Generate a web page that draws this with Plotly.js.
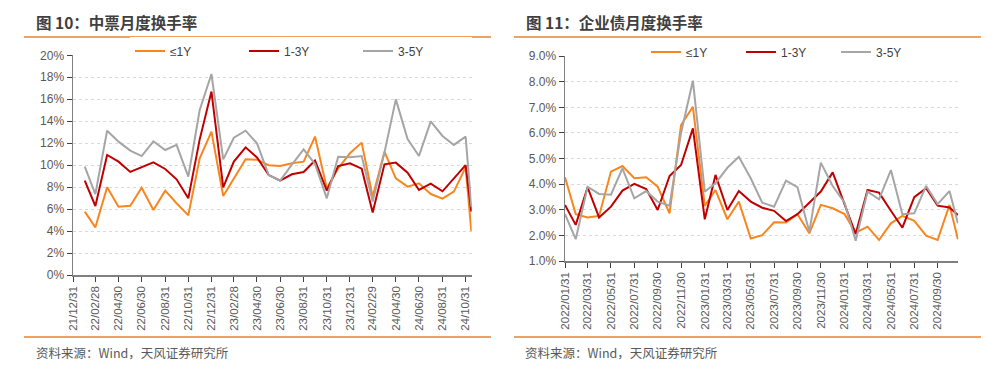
<!DOCTYPE html>
<html><head><meta charset="utf-8">
<script src="https://cdn.plot.ly/plotly-3.0.1.min.js"></script>
<style>html,body{margin:0;padding:0;background:#fff;overflow:hidden;}#chart{width:1000px;height:375px;}</style>
</head><body><div id="chart"></div>
<script>
// ---- Left chart: 中票月度换手率 ----
var mtnDates = ['2022-01-31','2022-02-28','2022-03-31','2022-04-30','2022-05-31','2022-06-30','2022-07-31','2022-08-31','2022-09-30','2022-10-31','2022-11-30','2022-12-31',
  '2023-01-31','2023-02-28','2023-03-31','2023-04-30','2023-05-31','2023-06-30','2023-07-31','2023-08-31','2023-09-30','2023-10-31','2023-11-30','2023-12-31',
  '2024-01-31','2024-02-29','2024-03-31','2024-04-30','2024-05-31','2024-06-30','2024-07-31','2024-08-31','2024-09-30','2024-10-31','2024-11-15'];
var mtnShort = [5.77,4.34,7.98,6.22,6.31,7.95,5.92,7.68,6.53,5.43,10.62,13.05,7.19,8.8,10.53,10.5,10.0,9.92,10.17,10.32,12.6,7.89,9.71,11.08,12.05,7.13,11.23,8.8,8.04,8.35,7.37,6.95,7.59,9.8,4.0];
var mtnMid   = [8.59,6.28,10.93,10.32,9.38,9.8,10.26,9.65,8.71,6.98,12.35,16.7,7.98,10.32,11.62,10.7,9.1,8.6,9.17,9.38,10.41,7.68,9.92,10.17,9.68,5.68,10.08,10.23,9.32,7.74,8.32,7.62,8.83,10.0,5.77];
var mtnLong  = [9.86,7.37,13.14,12.14,11.32,10.83,12.17,11.38,11.84,8.95,15.02,18.3,10.53,12.5,13.14,11.99,9.1,8.59,10.05,11.44,10.1,6.98,10.77,10.71,10.83,6.68,11.14,15.99,12.38,10.83,13.99,12.66,11.84,12.6,6.22];
var mtnTickVals = ['2021-12-31','2022-02-28','2022-04-30','2022-06-30','2022-08-31','2022-10-31','2022-12-31','2023-02-28','2023-04-30','2023-06-30','2023-08-31','2023-10-31','2023-12-31','2024-02-29','2024-04-30','2024-06-30','2024-08-31','2024-10-31'];
var mtnTickText = ['21/12/31','22/02/28','22/04/30','22/06/30','22/08/31','22/10/31','22/12/31','23/02/28','23/04/30','23/06/30','23/08/31','23/10/31','23/12/31','24/02/29','24/04/30','24/06/30','24/08/31','24/10/31'];
var mtnYTicks = [0,2,4,6,8,10,12,14,16,18,20];
var mtnYTickText = ['0%','2%','4%','6%','8%','10%','12%','14%','16%','18%','20%'];

// ---- Right chart: 企业债月度换手率 ----
var ebDates = ['2022-01-31','2022-02-28','2022-03-31','2022-04-30','2022-05-31','2022-06-30','2022-07-31','2022-08-31','2022-09-30','2022-10-31','2022-11-30','2022-12-31',
  '2023-01-31','2023-02-28','2023-03-31','2023-04-30','2023-05-31','2023-06-30','2023-07-31','2023-08-31','2023-09-30','2023-10-31','2023-11-30','2023-12-31',
  '2024-01-31','2024-02-29','2024-03-31','2024-04-30','2024-05-31','2024-06-30','2024-07-31','2024-08-31','2024-09-30','2024-10-31','2024-11-22'];
var ebShort = [4.27,2.83,2.70,2.76,4.49,4.71,4.23,4.27,3.90,2.86,6.31,7.02,3.15,3.77,2.63,3.32,1.88,2.01,2.51,2.50,2.83,2.08,3.19,3.06,2.83,2.11,2.34,1.82,2.47,2.76,2.57,1.99,1.82,3.19,1.85];
var ebMid   = [3.19,2.41,3.88,2.70,3.12,3.75,4.01,3.81,2.99,4.32,4.75,6.18,2.63,4.36,2.99,3.73,3.32,3.08,2.96,2.56,2.83,3.28,3.71,4.46,3.22,2.05,3.77,3.67,2.96,2.30,3.49,3.84,3.16,3.09,2.80];
var ebLong  = [2.83,1.85,3.90,3.62,3.59,4.62,3.45,3.73,3.32,3.16,6.0,8.04,3.71,4.03,4.64,5.07,4.23,3.28,3.12,4.14,3.88,2.14,4.84,3.93,3.28,1.79,3.71,3.41,4.55,2.83,2.86,3.93,3.22,3.73,2.47];
var ebTickVals = ['2022-01-31','2022-03-31','2022-05-31','2022-07-31','2022-09-30','2022-11-30','2023-01-31','2023-03-31','2023-05-31','2023-07-31','2023-09-30','2023-11-30','2024-01-31','2024-03-31','2024-05-31','2024-07-31','2024-09-30'];
var ebTickText = ['2022/01/31','2022/03/31','2022/05/31','2022/07/31','2022/09/30','2022/11/30','2023/01/31','2023/03/31','2023/05/31','2023/07/31','2023/09/30','2023/11/30','2024/01/31','2024/03/31','2024/05/31','2024/07/31','2024/09/30'];

var seriesNames = ['≤1Y','1-3Y','3-5Y'];
var colors = ['#F8861F','#C00000','#A5A5A5'];

function mk(x, y, i, xa, ya, lg){
  return {x:x, y:y, type:'scatter', mode:'lines', name:seriesNames[i],
    line:{color:colors[i], width:2}, xaxis:xa, yaxis:ya, legend:lg, hoverinfo:'skip'};
}
var data = [
  mk(mtnDates, mtnShort, 0, 'x', 'y', 'legend'),
  mk(mtnDates, mtnMid, 1, 'x', 'y', 'legend'),
  mk(mtnDates, mtnLong, 2, 'x', 'y', 'legend'),
  mk(ebDates, ebShort, 0, 'x2', 'y2', 'legend2'),
  mk(ebDates, ebMid, 1, 'x2', 'y2', 'legend2'),
  mk(ebDates, ebLong, 2, 'x2', 'y2', 'legend2'),
  // empty carrier trace so the left chart's labelled axis (y3) is drawn
  {x:[], y:[], type:'scatter', mode:'lines', xaxis:'x', yaxis:'y3', showlegend:false, hoverinfo:'skip'}
];

var tickFont = {family:'Liberation Sans, Arial, sans-serif', size:12, color:'#595959'};
var xFont = {family:'Liberation Sans, Arial, sans-serif', size:11.5, color:'#595959'};
var H = 375, W = 1000;
function py(p){ return 1 - p / H; }

var xBase = {type:'date', showgrid:false, zeroline:false, showline:true, linecolor:'#808080', linewidth:1.5,
  ticks:'outside', ticklen:5, tickcolor:'#404040', tickwidth:1, tickangle:-90, tickfont:xFont, fixedrange:true, tickmode:'array'};
var yBase = {type:'linear', showgrid:true, gridcolor:'#D9D9D9', griddash:'dot', gridwidth:1, zeroline:false, showline:true,
  linecolor:'#808080', linewidth:1.5, ticks:'outside', ticklen:5, tickcolor:'#404040', tickfont:tickFont, fixedrange:true};

var leftDomY = [py(275), py(55.3)];
var layout = {
  width:W, height:H, autosize:false, margin:{l:0,r:0,t:0,b:0,pad:0}, paper_bgcolor:'#fff', plot_bgcolor:'rgba(0,0,0,0)',
  xaxis: Object.assign({}, xBase, {domain:[73/W, 471.7/W], range:['2021-12-31','2024-11-16'], anchor:'y',
    tickvals:mtnTickVals, ticktext:mtnTickText}),
  // grid-only axis for the left chart (no gridline at the top value)
  yaxis: {type:'linear', domain:leftDomY, range:[0,20], anchor:'x', tickmode:'array', tickvals:mtnYTicks.slice(1, -1),
    showgrid:true, gridcolor:'#D9D9D9', griddash:'dot', gridwidth:1, zeroline:false, showline:false,
    showticklabels:false, ticks:'', fixedrange:true},
  // labelled axis for the left chart
  yaxis3: Object.assign({}, yBase, {domain:leftDomY, range:[0,20], tickmode:'array', tickvals:mtnYTicks, ticktext:mtnYTickText,
    overlaying:'y', anchor:'x', side:'left', showgrid:false}),
  xaxis2: Object.assign({}, xBase, {domain:[565/W, 958.3/W], range:['2022-01-31','2024-11-23'], anchor:'y2',
    tickvals:ebTickVals, ticktext:ebTickText}),
  yaxis2: Object.assign({}, yBase, {domain:[py(261), py(56.1)], range:[1,9], dtick:1, tick0:1, tickformat:'.1f', ticksuffix:'%', anchor:'x2'}),
  showlegend:true,
  legend:{orientation:'h', x:130/W, xanchor:'left', y:py(51), yanchor:'middle', bgcolor:'#fff', entrywidth:69, entrywidthmode:'pixels',
    font:{family:'Liberation Sans, Arial, sans-serif', size:12, color:'#404040'}},
  legend2:{orientation:'h', x:646/W, xanchor:'left', y:py(52), yanchor:'middle', bgcolor:'#fff', entrywidth:50, entrywidthmode:'pixels',
    font:{family:'Liberation Sans, Arial, sans-serif', size:12, color:'#404040'}},
  shapes:[
    {type:'line', xref:'paper', yref:'paper', x0:24/W, x1:491/W, y0:py(37), y1:py(37), line:{color:'#E9822D', width:1.3}},
    {type:'line', xref:'paper', yref:'paper', x0:514/W, x1:981/W, y0:py(37), y1:py(37), line:{color:'#E9822D', width:1.3}},
    {type:'line', xref:'paper', yref:'paper', x0:24/W, x1:491/W, y0:py(337), y1:py(337), line:{color:'#E9822D', width:1.3}},
    {type:'line', xref:'paper', yref:'paper', x0:514/W, x1:981/W, y0:py(337), y1:py(337), line:{color:'#E9822D', width:1.3}}
  ],
  annotations:[
    {text:'<b>图 10：中票月度换手率</b>', xref:'paper', yref:'paper', x:34/W, y:py(22), xanchor:'left', yanchor:'middle', showarrow:false,
      font:{family:'Noto Sans CJK SC, sans-serif', size:15.5, color:'#404040'}},
    {text:'<b>图 11：企业债月度换手率</b>', xref:'paper', yref:'paper', x:524/W, y:py(22), xanchor:'left', yanchor:'middle', showarrow:false,
      font:{family:'Noto Sans CJK SC, sans-serif', size:15.5, color:'#404040'}},
    {text:'资料来源：Wind，天风证券研究所', xref:'paper', yref:'paper', x:34/W, y:py(352), xanchor:'left', yanchor:'middle', showarrow:false,
      font:{family:'Noto Sans CJK SC, sans-serif', size:12.5, color:'#595959'}},
    {text:'资料来源：Wind，天风证券研究所', xref:'paper', yref:'paper', x:523/W, y:py(352), xanchor:'left', yanchor:'middle', showarrow:false,
      font:{family:'Noto Sans CJK SC, sans-serif', size:12.5, color:'#595959'}}
  ]
};
Plotly.newPlot('chart', data, layout, {staticPlot:true, displayModeBar:false, responsive:false});
</script></body></html>
